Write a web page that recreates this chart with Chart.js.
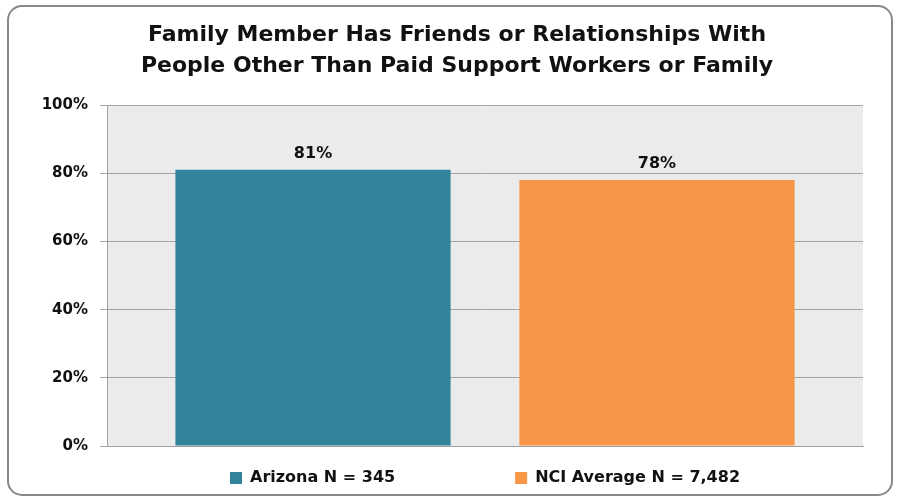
<!DOCTYPE html>
<html>
<head>
<meta charset="utf-8">
<script src="https://cdn.jsdelivr.net/npm/chart.js@4.4.0/dist/chart.umd.min.js"></script>
<style>
  html, body { margin: 0; padding: 0; background: #fff; }
  #wrap { position: relative; width: 898px; height: 498px; }
</style>
</head>
<body>
<div id="wrap"><canvas id="chart" width="898" height="498"></canvas></div>
<script>
// ── Data ───────────────────────────────────────────────
const titleLines = ['Family Member Has Friends or Relationships With', 'People Other Than Paid Support Workers or Family'];
const categories = [''];
const seriesNames = ['Arizona N = 345', 'NCI Average N = 7,482'];
const seriesValues = [81, 78];
const yTicks = [0, 20, 40, 60, 80, 100];

const seriesColors = ['#31849B', '#F79646'];
const FONT = '"DejaVu Sans", Verdana, sans-serif';
const LEGEND_GAP = 120;   // space between legend entries
const LEGEND_H = 30;      // height reserved for the legend row
const LEGEND_Y = 478;     // vertical centre of legend row
const TITLE_X = 457;      // title centre

// ── Plugins ────────────────────────────────────────────
const frame = {
  id: 'frame',
  afterInit(chart) {
    // keep the wide legend spacing from eating vertical room
    const lg = chart.legend;
    const fit = lg.fit;
    lg.fit = function () { fit.call(this); this.height = LEGEND_H; };
  },
  afterLayout(chart) {
    const a = chart.chartArea;
    const lg = chart.legend;
    const dx = (a.left + a.right) / 2 - (lg.left + lg.right) / 2;
    lg.left += dx;
    lg.right += dx;
    const itemH = lg._itemHeight || 16;
    lg.top = LEGEND_Y - itemH / 2 - LEGEND_GAP;
    lg.bottom = 498;
    const t = chart.titleBlock;
    const tx = TITLE_X - (t.left + t.right) / 2;
    t.left += tx;
    t.right += tx;
  },
  beforeDraw(chart) {
    const { ctx, chartArea: a } = chart;
    ctx.save();
    ctx.fillStyle = '#EBEBEB';
    ctx.fillRect(a.left, a.top, a.right - a.left, a.bottom - a.top);
    ctx.strokeStyle = '#888888';
    ctx.lineWidth = 2;
    ctx.beginPath();
    ctx.roundRect(8, 6, 884, 489, 14);
    ctx.stroke();
    ctx.restore();
  },
};

const valueLabels = {
  id: 'valueLabels',
  afterDatasetsDraw(chart) {
    const { ctx } = chart;
    ctx.save();
    ctx.font = 'bold 16px ' + FONT;
    ctx.fillStyle = '#111';
    ctx.textAlign = 'center';
    ctx.textBaseline = 'alphabetic';
    chart.data.datasets.forEach((ds, i) => {
      chart.getDatasetMeta(i).data.forEach((bar, j) => {
        ctx.fillText(ds.data[j] + '%', bar.x, bar.y - 12);
      });
    });
    ctx.restore();
  },
};

// ── Chart ──────────────────────────────────────────────
new Chart(document.getElementById('chart'), {
  type: 'bar',
  data: {
    labels: categories,
    datasets: seriesNames.map((name, i) => ({
      label: name,
      data: [seriesValues[i]],
      backgroundColor: seriesColors[i],
      borderWidth: 0,
      categoryPercentage: 0.91,
      barPercentage: 0.8,
    })),
  },
  options: {
    responsive: false,
    animation: false,
    layout: { padding: { left: 0, right: 35, top: 0, bottom: 4 } },
    plugins: {
      title: {
        display: true,
        text: titleLines,
        color: '#111',
        font: { family: FONT, size: 22, weight: 'bold', lineHeight: 1.41 },
        padding: { top: 20, bottom: 23 },
      },
      legend: {
        position: 'bottom',
        labels: {
          boxWidth: 12,
          boxHeight: 12,
          padding: LEGEND_GAP,
          color: '#111',
          font: { family: FONT, size: 16, weight: 'bold' },
        },
      },
      tooltip: { enabled: false },
    },
    scales: {
      x: {
        ticks: { display: false },
        grid: { display: false },
        border: { color: '#A0A0A0', width: 1 },
        afterFit: s => { s.height = 18; },
      },
      y: {
        min: 0,
        max: 100,
        afterBuildTicks: s => { s.ticks = yTicks.map(v => ({ value: v })); },
        ticks: {
          color: '#111',
          padding: 12,
          font: { family: FONT, size: 15, weight: 'bold' },
          callback: v => v + '%',
        },
        grid: { color: '#A6A6A6', tickLength: 7 },
        border: { color: '#A0A0A0', width: 1 },
        afterFit: s => { s.width = 107; },
      },
    },
  },
  plugins: [frame, valueLabels],
});
</script>
</body>
</html>
